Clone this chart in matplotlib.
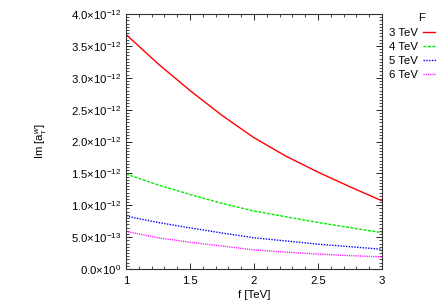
import matplotlib
matplotlib.use("Agg")
import math
import matplotlib.pyplot as plt
from matplotlib.ticker import MultipleLocator, FuncFormatter

plt.rcParams['font.family'] = ['Liberation Sans', 'DejaVu Sans']
plt.rcParams['mathtext.fontset'] = 'custom'
plt.rcParams['mathtext.rm'] = 'Liberation Sans'
plt.rcParams['mathtext.it'] = 'Liberation Sans:italic'

f_vals = [1.0, 1.25, 1.5, 1.75, 2.0, 2.25, 2.5, 2.75, 3.0]
im_3tev = [3.68e-12, 3.22e-12, 2.80e-12, 2.41e-12, 2.06e-12, 1.77e-12, 1.52e-12, 1.29e-12, 1.07e-12]
im_4tev = [1.49e-12, 1.32e-12, 1.17e-12, 1.03e-12, 0.91e-12, 0.82e-12, 0.73e-12, 0.65e-12, 0.57e-12]
im_5tev = [0.83e-12, 0.73e-12, 0.645e-12, 0.565e-12, 0.49e-12, 0.44e-12, 0.39e-12, 0.35e-12, 0.31e-12]
im_6tev = [0.59e-12, 0.49e-12, 0.42e-12, 0.36e-12, 0.30e-12, 0.265e-12, 0.235e-12, 0.21e-12, 0.19e-12]
labels = ['3 TeV', '4 TeV', '5 TeV', '6 TeV']
y_ticks = [0.0, 0.5e-12, 1.0e-12, 1.5e-12, 2.0e-12, 2.5e-12, 3.0e-12, 3.5e-12, 4.0e-12]
x_ticks = [1, 1.5, 2, 2.5, 3]

fig = plt.figure(figsize=(4.36, 3.05), dpi=100)
ax = fig.add_axes([0.289, 0.118, 0.587, 0.836])

styles = [
    dict(color='#ff0000', linestyle='-'),
    dict(color='#00ee00', linestyle=(0, (2.2, 1.0))),
    dict(color='#0000ff', linestyle=(0, (1.0, 1.0))),
    dict(color='#ff00ff', linestyle=(0, (0.8, 0.8))),
]
series = [im_3tev, im_4tev, im_5tev, im_6tev]
for ys, st, lab in zip(series, styles, labels):
    ax.plot(f_vals, ys, lw=1.0, label=lab, **st)

ax.set_xlim(1, 3)
ax.set_ylim(0, 4.0e-12)
ax.set_xticks(x_ticks)
ax.set_yticks(y_ticks)
ax.xaxis.set_minor_locator(MultipleLocator(0.1))
ax.yaxis.set_minor_locator(MultipleLocator(0.05e-12))

def fmt_y(v, pos):
    if v == 0:
        return r'0.0$\times$10$^{0}$'
    e = int(math.floor(math.log10(abs(v)) + 1e-9))
    m = v / 10**e
    return r'%.1f$\times$10$^{%d}$' % (m, e)

ax.yaxis.set_major_formatter(FuncFormatter(fmt_y))
ax.xaxis.set_major_formatter(FuncFormatter(lambda v, p: ('%g' % v)))

FS = 8.2
ax.tick_params(which='both', direction='in', top=True, right=True, labelsize=FS, colors='black')
ax.tick_params(which='major', length=4, width=0.6)
ax.tick_params(which='minor', length=2, width=0.5)
ax.tick_params(axis='x', pad=5)
for s in ax.spines.values():
    s.set_linewidth(0.8)
    s.set_color('#333333')

ax.set_xlabel('f [TeV]', fontsize=FS, labelpad=3)
ax.set_ylabel(r'Im [a$_{\tau}^{w}$]', fontsize=FS, labelpad=16)

leg = ax.legend(loc='upper left', bbox_to_anchor=(0.995, 0.975), frameon=False,
                markerfirst=False, fontsize=FS, handlelength=2.4,
                labelspacing=0.35, borderaxespad=0.3, handletextpad=0.5)
fig.text(0.968, 0.942, 'F', fontsize=FS, ha='center', va='center')

fig.savefig('out.png', dpi=100)
